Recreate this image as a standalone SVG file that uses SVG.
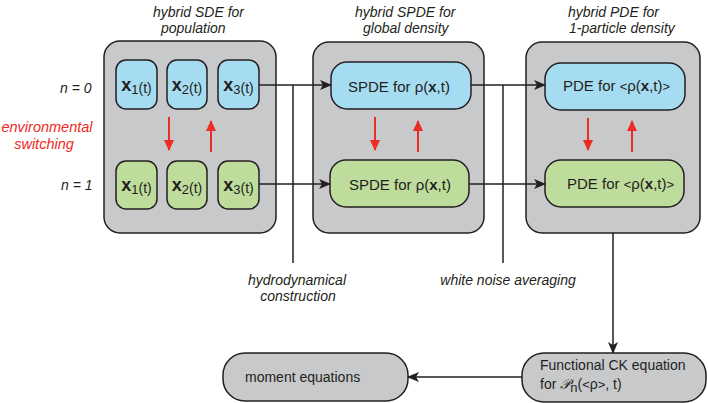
<svg xmlns="http://www.w3.org/2000/svg" width="708" height="403" viewBox="0 0 708 403">
<defs>
<style>
.panel{fill:#c8c9cb;stroke:#231f20;stroke-width:1.5}
.blue{fill:#a6dcf2;stroke:#231f20;stroke-width:1.5}
.green{fill:#bedc9b;stroke:#231f20;stroke-width:1.5}
.gbox{fill:#c8c9cb;stroke:#231f20;stroke-width:1.5}
.t{font-family:"Liberation Sans",Arial,sans-serif;font-size:15px;fill:#231f20}
.it{font-family:"Liberation Sans",Arial,sans-serif;font-size:14px;font-style:italic;fill:#231f20}
.up{font-family:"Liberation Sans",Arial,sans-serif;font-size:14px;fill:#231f20}
.red{font-family:"Liberation Sans",Arial,sans-serif;font-size:14.5px;font-style:italic;fill:#ee2b25}
.bx{font-weight:bold;font-size:18px}
.sm{font-size:13px}
.pt{font-size:14px}
.conn{fill:none;stroke:#231f20;stroke-width:1.5}
.rarr{fill:none;stroke:#ee2b25;stroke-width:2}
</style>
<marker id="ah" viewBox="0 0 12 10" refX="11" refY="5" markerWidth="12" markerHeight="10" markerUnits="userSpaceOnUse" orient="auto">
<path d="M0,0 L12,5 L0,10 L3,5 Z" fill="#231f20"/>
</marker>
<marker id="rh" viewBox="0 0 11 10" refX="10" refY="5" markerWidth="11" markerHeight="10" markerUnits="userSpaceOnUse" orient="auto">
<path d="M0,0 L11,5 L0,10 Z" fill="#ee2b25"/>
</marker>
</defs>

<!-- titles and side labels -->
<g id="labels">
<text class="it" x="153" y="17">hybrid SDE for</text>
<text class="it" x="161" y="33">population</text>
<text class="it" x="355" y="17">hybrid SPDE for</text>
<text class="it" x="363" y="33">global density</text>
<text class="it" x="568" y="17">hybrid PDE for</text>
<text class="it" x="569" y="33">1-particle density</text>
<text class="it" x="60" y="93">n = 0</text>
<text class="it" x="61" y="190">n = 1</text>
<text class="red" x="47" y="132" text-anchor="middle">environmental</text>
<text class="red" x="44" y="149" text-anchor="middle">switching</text>
<text class="it" x="297" y="285" text-anchor="middle">hydrodynamical</text>
<text class="it" x="298" y="301" text-anchor="middle">construction</text>
<text class="it" x="508" y="285" text-anchor="middle">white noise averaging</text>
</g>

<!-- panel 1 -->
<g id="panel-sde">
<rect class="panel" x="104" y="41" width="172" height="192" rx="16"/>
<g id="x1-n0"><rect class="blue" x="116" y="60" width="41" height="49" rx="10"/>
<text class="t" x="136.5" y="91" text-anchor="middle"><tspan class="bx">x</tspan><tspan class="sm" dy="3">1</tspan><tspan class="pt" dy="-1">(t)</tspan></text></g>
<g id="x2-n0"><rect class="blue" x="167" y="60" width="40" height="49" rx="10"/>
<text class="t" x="187" y="91" text-anchor="middle"><tspan class="bx">x</tspan><tspan class="sm" dy="3">2</tspan><tspan class="pt" dy="-1">(t)</tspan></text></g>
<g id="x3-n0"><rect class="blue" x="218" y="60" width="41" height="49" rx="10"/>
<text class="t" x="238.5" y="91" text-anchor="middle"><tspan class="bx">x</tspan><tspan class="sm" dy="3">3</tspan><tspan class="pt" dy="-1">(t)</tspan></text></g>
<g id="x1-n1"><rect class="green" x="116" y="161" width="41" height="48" rx="10"/>
<text class="t" x="136.5" y="191" text-anchor="middle"><tspan class="bx">x</tspan><tspan class="sm" dy="3">1</tspan><tspan class="pt" dy="-1">(t)</tspan></text></g>
<g id="x2-n1"><rect class="green" x="167" y="161" width="40" height="48" rx="10"/>
<text class="t" x="187" y="191" text-anchor="middle"><tspan class="bx">x</tspan><tspan class="sm" dy="3">2</tspan><tspan class="pt" dy="-1">(t)</tspan></text></g>
<g id="x3-n1"><rect class="green" x="218" y="161" width="41" height="48" rx="10"/>
<text class="t" x="238.5" y="191" text-anchor="middle"><tspan class="bx">x</tspan><tspan class="sm" dy="3">3</tspan><tspan class="pt" dy="-1">(t)</tspan></text></g>
<line class="rarr" x1="169" y1="117" x2="169" y2="150" marker-end="url(#rh)"/>
<line class="rarr" x1="211" y1="152" x2="211" y2="121" marker-end="url(#rh)"/>
</g>

<!-- panel 2 -->
<g id="panel-spde">
<rect class="panel" x="313" y="42" width="171" height="191" rx="16"/>
<g id="spde-n0"><rect class="blue" x="331" y="62" width="140" height="47" rx="16"/>
<text class="t" x="348" y="92">SPDE for ρ(<tspan font-weight="bold">x</tspan>,t)</text></g>
<g id="spde-n1"><rect class="green" x="330" y="160" width="139" height="47" rx="16"/>
<text class="t" x="349" y="190">SPDE for ρ(<tspan font-weight="bold">x</tspan>,t)</text></g>
<line class="rarr" x1="375" y1="117" x2="375" y2="150" marker-end="url(#rh)"/>
<line class="rarr" x1="418" y1="152" x2="418" y2="121" marker-end="url(#rh)"/>
</g>

<!-- panel 3 -->
<g id="panel-pde">
<rect class="panel" x="526" y="42" width="174" height="191" rx="16"/>
<g id="pde-n0"><rect class="blue" x="545" y="63" width="140" height="47" rx="16"/>
<text class="t" x="563" y="91">PDE for <tspan class="sm">&lt;</tspan>ρ(<tspan font-weight="bold">x</tspan>,t)<tspan class="sm">&gt;</tspan></text></g>
<g id="pde-n1"><rect class="green" x="545" y="160" width="139" height="47" rx="16"/>
<text class="t" x="567" y="189">PDE for <tspan class="sm">&lt;</tspan>ρ(<tspan font-weight="bold">x</tspan>,t)<tspan class="sm">&gt;</tspan></text></g>
<line class="rarr" x1="588" y1="118" x2="588" y2="150" marker-end="url(#rh)"/>
<line class="rarr" x1="632" y1="152" x2="632" y2="121" marker-end="url(#rh)"/>
</g>

<!-- bottom nodes -->
<g id="ck">
<rect class="gbox" x="522" y="353" width="184" height="49" rx="22"/>
<text class="up" x="540" y="370">Functional CK equation</text>
<text class="up" x="540" y="389">for <tspan font-family="'DejaVu Serif','Noto Sans',serif" font-style="italic">𝒫</tspan><tspan class="sm" dy="3">n</tspan><tspan dy="-3">(<tspan class="sm">&lt;</tspan>ρ<tspan class="sm">&gt;</tspan>, t)</tspan></text>
</g>
<g id="moment">
<rect class="gbox" x="223" y="353" width="185" height="48" rx="22"/>
<text class="up" x="245" y="382">moment equations</text>
</g>

<!-- connectors -->
<g id="connectors">
<line class="conn" x1="259" y1="85" x2="331" y2="85" marker-end="url(#ah)"/>
<line class="conn" x1="259" y1="184" x2="330" y2="184" marker-end="url(#ah)"/>
<line class="conn" x1="293" y1="85" x2="293" y2="263"/>
<line class="conn" x1="471" y1="85" x2="545" y2="85" marker-end="url(#ah)"/>
<line class="conn" x1="469" y1="184" x2="545" y2="184" marker-end="url(#ah)"/>
<line class="conn" x1="503" y1="85" x2="503" y2="263"/>
<line class="conn" x1="613" y1="233" x2="613" y2="353" marker-end="url(#ah)"/>
<line class="conn" x1="522" y1="377" x2="408" y2="377" marker-end="url(#ah)"/>
</g>
</svg>
